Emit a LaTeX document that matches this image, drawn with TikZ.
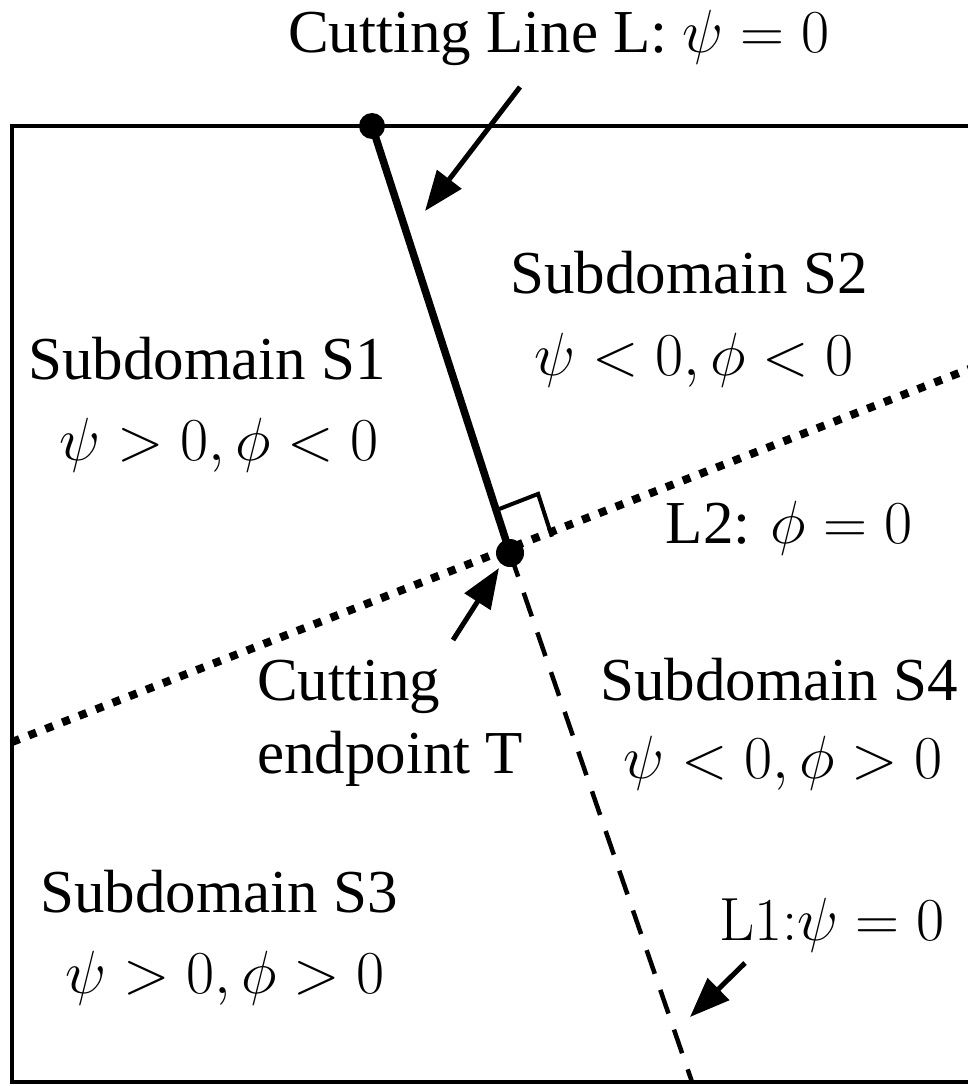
\RequirePackage{fix-cm}
\documentclass[tikz,border=0pt]{standalone}
\usepackage[no-math]{fontspec}
\setmainfont{Liberation Serif}
\usetikzlibrary{arrows.meta}
\begin{document}
\begin{tikzpicture}[x=1pt,y=-1pt,
  txt/.style={font=\fontsize{61}{73}\selectfont, inner sep=0pt, anchor=base},
  ltxt/.style={txt, anchor=base west},
  border/.style={line width=4.5pt},
  cutline/.style={line width=7.5pt},
  dotline/.style={line width=8pt, dash pattern=on 8pt off 10pt},
  dashline/.style={line width=4.5pt, dash pattern=on 25pt off 17pt},
  pointer/.style={line width=5pt, -{Triangle[length=40pt,width=30pt]}},
  rightmark/.style={line width=4pt}]
\useasboundingbox (0,0) rectangle (967,1086);
% frame
\coordinate (TR) at (995,126);
\coordinate (TL) at (12,126);
\coordinate (BL) at (12,1082);
\coordinate (BR) at (995,1082);
\draw[border] (TR) -- (TL) -- (BL) -- (BR);
% key points
\coordinate (P) at (372,126);
\coordinate (T) at (510,553);
\coordinate (B) at (692,1082);
\coordinate (L2a) at (12,742);
\coordinate (L2b) at (995,359);
% lines
\draw[dotline] (L2a) -- (L2b);
\draw[dashline] (T) -- (B);
\draw[cutline] (P) -- (T);
% right angle mark
\coordinate (RA) at (496.2,510.2);
\coordinate (RC) at (538.1,493.9);
\coordinate (RB) at (551.9,536.7);
\draw[rightmark] (RA) -- (RC) -- (RB);
% dots
\fill (P) circle (13pt);
\fill (T) circle (14pt);
% labels
\node[txt] (title) at (559,53) {Cutting Line L: $\psi = 0$};
\node[txt] (s1a) at (207,379) {Subdomain S1};
\node[txt] (s1b) at (219,460) {$\psi > 0, \phi < 0$};
\node[txt] (s2a) at (689,293) {Subdomain S2};
\node[txt] (s2b) at (694,375) {$\psi < 0, \phi < 0$};
\node[txt] (l2) at (789,543) {L2: $\phi = 0$};
\node[ltxt] (cta) at (257,700) {Cutting};
\node[ltxt] (ctb) at (257,773) {endpoint T};
\node[txt] (s4a) at (779,700) {Subdomain S4};
\node[txt] (s4b) at (783,778) {$\psi < 0, \phi > 0$};
\node[txt] (s3a) at (219,912) {Subdomain S3};
\node[txt] (s3b) at (225,993) {$\psi > 0, \phi > 0$};
\node[txt] (l1) at (832,940) {$\mathrm{L1}{:}\psi = 0$};
% pointers
\coordinate (a1s) at (520,87);
\coordinate (a1e) at (425,211);
\coordinate (a2s) at (453,640);
\coordinate (a2e) at (499,568);
\coordinate (a3s) at (745,963);
\coordinate (a3e) at (690,1017);
\draw[pointer] (a1s) -- (a1e);
\draw[pointer] (a2s) -- (a2e);
\draw[pointer] (a3s) -- (a3e);
\end{tikzpicture}
\end{document}
